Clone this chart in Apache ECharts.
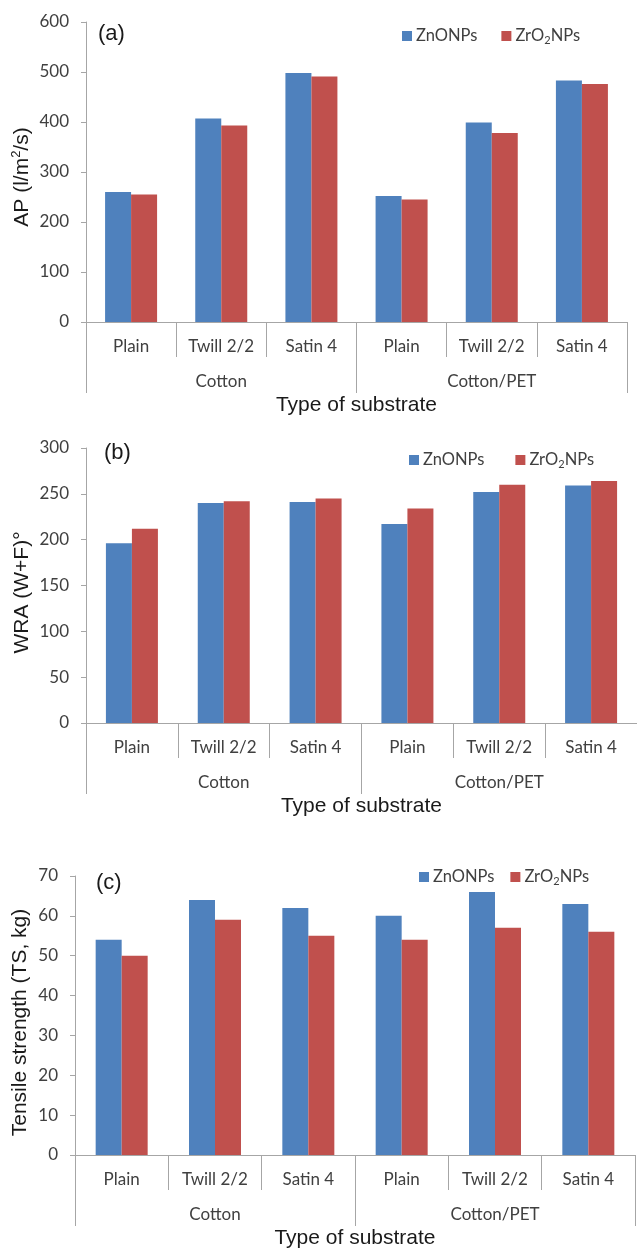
<!DOCTYPE html>
<html>
<head>
<meta charset="utf-8">
<script src="https://cdn.jsdelivr.net/npm/echarts@6/dist/echarts.min.js"></script>
<style>html,body{margin:0;padding:0;background:#fff;}#chart{width:637px;height:1250px;}</style>
</head>
<body>
<div id="chart"></div>
<script>
// ---- data ----
const categories = ["Plain", "Twill 2/2", "Satin 4", "Plain", "Twill 2/2", "Satin 4"];
const groups = ["Cotton", "Cotton/PET"];
const seriesNames = ["ZnONPs", "ZrO2NPs"];
const apZnO = [260, 407, 498, 252, 399, 483];
const apZrO2 = [255, 393, 491, 245, 378, 476];
const wraZnO = [196, 240, 241, 217, 252, 259];
const wraZrO2 = [212, 242, 245, 234, 260, 264];
const tsZnO = [54, 64, 62, 60, 66, 63];
const tsZrO2 = [50, 59, 55, 54, 57, 56];
const apAxis = { min: 0, max: 600, interval: 100 };
const wraAxis = { min: 0, max: 300, interval: 50 };
const tsAxis = { min: 0, max: 70, interval: 10 };
const panelLabels = ["(a)", "(b)", "(c)"];
const yTitles = ["AP (l/m{sup|2}/s)", "WRA (W+F)°", "Tensile strength (TS, kg)"];
const xTitle = "Type of substrate";

// ---- styling / layout ----
const BLUE = '#4F81BD', RED = '#C0504D', AX = '#A6A6A6', TXT = '#404040', TTL = '#1a1a1a';
const LBL = 'Lato';
const TFONT = 'Liberation Sans';
const panels = [
  { grid: { left: 86, top: 22, width: 541, height: 300 }, y: apAxis, d: [apZnO, apZrO2], yGap: 52, yPad: 10,
    legend: { left: 402, top: 26, gap: 24 }, lab: { left: 98, top: 24 } },
  { grid: { left: 86, top: 448, width: 554, height: 275 }, y: wraAxis, d: [wraZnO, wraZrO2], yGap: 52, yPad: 14,
    legend: { left: 409, top: 450, gap: 31 }, lab: { left: 104, top: 443 } },
  { grid: { left: 75, top: 876, width: 560, height: 281 }, y: tsAxis, d: [tsZnO, tsZrO2], yGap: 43, yPad: 14,
    legend: { left: 419, top: 867, gap: 16 }, lab: { left: 96, top: 873 } }
];

const option = { animation: false, grid: [], xAxis: [], yAxis: [], series: [], legend: [], graphic: [] };
panels.forEach((p, i) => {
  option.grid.push(Object.assign({ containLabel: false }, p.grid));
  option.xAxis.push({
    type: 'category', gridIndex: i, data: categories, position: 'bottom',
    axisLine: { show: true, lineStyle: { color: AX, width: 1 } },
    axisTick: { show: true, length: 35, lineStyle: { color: AX } },
    axisLabel: { interval: 0, margin: 16, fontSize: 17, fontFamily: LBL, color: TXT }
  });
  option.xAxis.push({
    type: 'category', gridIndex: i, data: groups, position: 'bottom',
    axisLine: { show: false },
    axisTick: { show: true, length: 71, lineStyle: { color: AX } },
    axisLabel: { interval: 0, margin: 51, fontSize: 17, fontFamily: LBL, color: TXT },
    name: xTitle, nameLocation: 'middle', nameGap: 73, nameMoveOverlap: false,
    nameTextStyle: { fontSize: 21, fontFamily: TFONT, color: TTL }
  });
  option.yAxis.push({
    type: 'value', gridIndex: i, min: p.y.min, max: p.y.max, interval: p.y.interval,
    axisLine: { show: true, lineStyle: { color: AX } },
    axisTick: { show: true, length: 5, lineStyle: { color: AX } },
    splitLine: { show: false },
    axisLabel: { margin: 17, fontSize: 17, fontFamily: LBL, color: TXT },
    name: yTitles[i], nameLocation: 'middle', nameGap: p.yGap, nameRotate: 90, nameMoveOverlap: false,
    nameTextStyle: { fontSize: 21, fontFamily: TFONT, color: TTL, lineHeight: 24, padding: [0, p.yPad, 0, 0],
      rich: { sup: { fontSize: 13, fontFamily: TFONT, color: TTL, verticalAlign: 'top', lineHeight: 12 } } }
  });
  seriesNames.forEach((n, k) => {
    option.series.push({
      type: 'bar', name: n, xAxisIndex: i * 2, yAxisIndex: i, data: p.d[k],
      barWidth: 26, barGap: '0%', itemStyle: { color: k === 0 ? BLUE : RED }
    });
  });
  option.legend.push({
    left: p.legend.left, top: p.legend.top, itemGap: p.legend.gap, itemWidth: 10, itemHeight: 10,
    icon: 'rect', data: seriesNames, padding: 0,
    seriesIndex: [i * 2, i * 2 + 1],
    formatter: nm => nm === 'ZrO2NPs' ? 'ZrO{sub|2}NPs' : nm,
    textStyle: { fontSize: 16.5, fontFamily: LBL, color: TXT, lineHeight: 20, padding: [0, 0, 0, -1],
      rich: { sub: { fontSize: 11, fontFamily: LBL, color: TXT, verticalAlign: 'bottom', lineHeight: 12 } } }
  });
  option.graphic.push({
    type: 'text', left: p.lab.left, top: p.lab.top - 1,
    style: { text: panelLabels[i], fontSize: 22, fontFamily: TFONT, fill: TTL }
  });
});

const chart = echarts.init(document.getElementById('chart'), null, { renderer: 'canvas' });
chart.setOption(option);
</script>
</body>
</html>
